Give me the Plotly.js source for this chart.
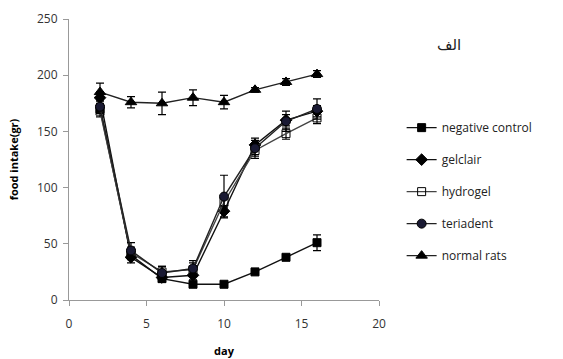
<!DOCTYPE html>
<html><head><meta charset="utf-8">
<script src="https://cdn.plot.ly/plotly-3.0.1.min.js"></script>
<style>body{margin:0;background:#fff}#chart{width:563px;height:359px}</style>
</head><body><div id="chart"></div>
<script>
var days = [2, 4, 6, 8, 10, 12, 14, 16];
var seriesNames = ["negative control", "gelclair", "hydrogel", "teriadent", "normal rats"];
var negativeControl = [170, 40, 19, 14, 14, 25, 38, 51];
var negativeControlErr = [4, 4, 3, 2, 2, 2, 2, 7];
var gelclair = [180, 38, 20, 22, 79, 138, 160, 168];
var gelclairErr = [5, 5, 4, 4, 5, 4, 5, 5];
var hydrogel = [168, 42, 25, 27, 87, 133, 148, 162];
var hydrogelErr = [5, 5, 5, 6, 5, 5, 5, 5];
var teriadent = [172, 44, 24, 28, 92, 135, 159, 170];
var teriadentErr = [6, 7, 6, 7, 19, 9, 9, 9];
var normalRats = [185, 176, 175, 180, 176, 187, 194, 201];
var normalRatsErr = [8, 5, 10, 7, 6, 2, 3, 3];
var titleText = "الف";

var values = [negativeControl, gelclair, hydrogel, teriadent, normalRats];
var errs = [negativeControlErr, gelclairErr, hydrogelErr, teriadentErr, normalRatsErr];
var symbols = ["square", "diamond", "square-open", "circle", "triangle-up"];
var mcolors = ["#000", "#000", "#000", "#1a1a33", "#000"];
var lcolors = ["#111", "#111", "#444", "#222", "#222"];
var sizes = [8, 9, 8, 9, 10];

var traces = seriesNames.map(function(n, i){
  return {
    x: days, y: values[i], name: n, type: "scatter", mode: "lines+markers",
    legendgroup: "g" + i,
    line: {color: lcolors[i], width: 1.4},
    marker: {symbol: symbols[i], size: sizes[i], color: mcolors[i], line: {color: "#000", width: 1}},
    error_y: {type: "data", array: errs[i], visible: true, color: "#000", thickness: 1.2, width: 4}
  };
});

var layout = {
  width: 563, height: 359,
  margin: {l: 69, r: 184, t: 19, b: 59},
  paper_bgcolor: "#fff", plot_bgcolor: "#fff",
  font: {family: "Open Sans, sans-serif", color: "#333"},
  showlegend: true,
  legend: {x: 1.073, y: 0.665, xanchor: "left", yanchor: "top", tracegroupgap: 13,
           itemwidth: 30,
           font: {size: 12, color: "#222"}, bgcolor: "rgba(0,0,0,0)"},
  xaxis: {range: [0, 20], tickvals: [0, 5, 10, 15, 20], showgrid: false, zeroline: false,
          showline: true, linecolor: "#999", linewidth: 1, ticks: "outside", ticklen: 5, tickcolor: "#999",
          ticklabelstandoff: 8,
          tickfont: {size: 12, color: "#333"},
          title: {text: "day", font: {size: 11, color: "#000", weight: "bold"}, standoff: 15}},
  yaxis: {range: [0, 250], tickvals: [0, 50, 100, 150, 200, 250], showgrid: false, zeroline: false,
          showline: true, linecolor: "#999", linewidth: 1, ticks: "outside", ticklen: 5, tickcolor: "#999",
          ticklabelstandoff: 3,
          tickfont: {size: 12, color: "#333"},
          title: {text: "food intake(gr)", font: {size: 11, color: "#000", weight: "bold"}, standoff: 16}},
  annotations: [{text: titleText, xref: "paper", yref: "paper", x: 1.27, y: 0.945, showarrow: false,
                 font: {size: 15, color: "#222", family: "DejaVu Sans, sans-serif"}}]
};
Plotly.newPlot("chart", traces, layout, {staticPlot: true, displayModeBar: false});
</script></body></html>
